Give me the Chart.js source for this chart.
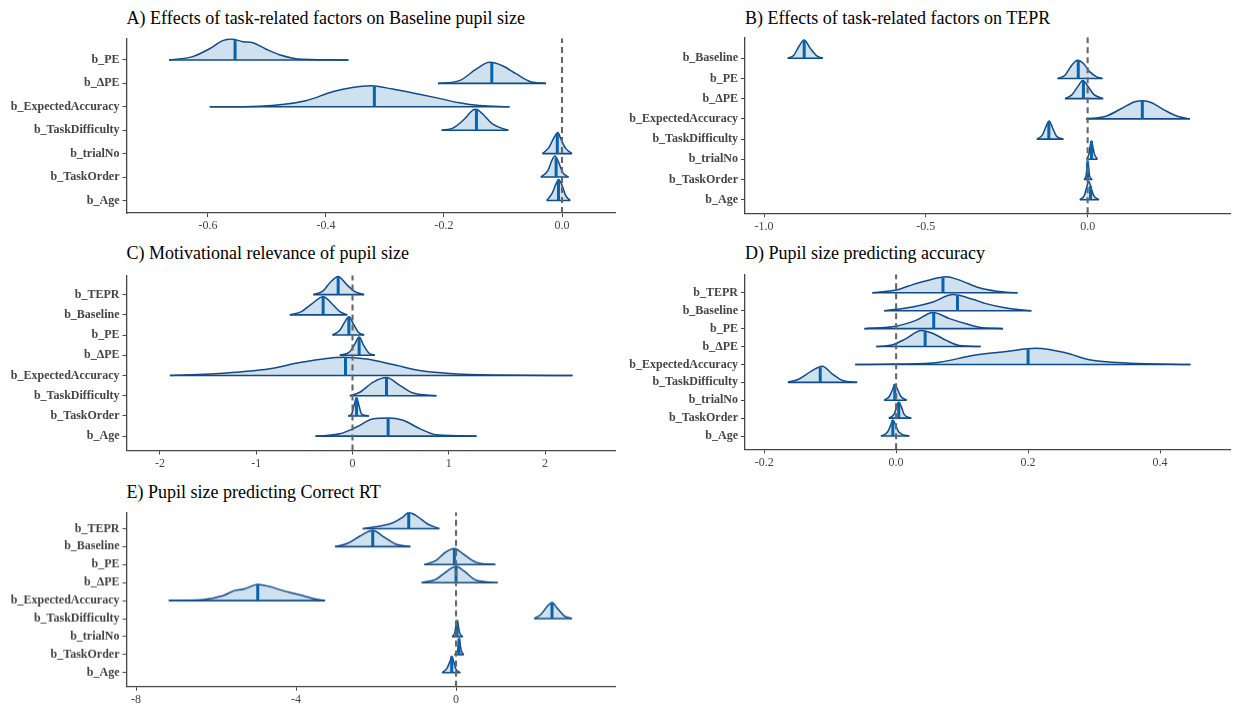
<!DOCTYPE html>
<html>
<head>
<meta charset="utf-8">
<script src="https://cdn.jsdelivr.net/npm/chart.js@4"></script>
<style>
  body { margin: 0; background: #fff; width: 1233px; height: 704px; position: relative; overflow: hidden;
         font-family: "Liberation Serif", "Times New Roman", serif; }
  .ttl { position: absolute; font-size: 18px; line-height: 20px; color: #000; white-space: nowrap; }
  .box { position: absolute; }
</style>
</head>
<body>
<script>
// ── Panel A: task factors -> baseline pupil size ─────────────────────────
const aLabels = ['b_PE', 'b_ΔPE', 'b_ExpectedAccuracy', 'b_TaskDifficulty', 'b_trialNo', 'b_TaskOrder', 'b_Age'];
const aX = [
  [-0.666, -0.626, -0.598, -0.575, -0.561, -0.541, -0.524, -0.502, -0.479, -0.440, -0.362],
  [-0.210, -0.174, -0.146, -0.123, -0.101, -0.078, -0.053, -0.027],
  [-0.597, -0.513, -0.434, -0.389, -0.355, -0.324, -0.287, -0.248, -0.208, -0.174, -0.140, -0.089],
  [-0.204, -0.185, -0.168, -0.151, -0.146, -0.132, -0.118, -0.095, -0.091],
  [-0.033, -0.022, -0.013, -0.007, -0.002, 0.006, 0.017],
  [-0.036, -0.024, -0.017, -0.012, -0.006, 0.001, 0.011],
  [-0.026, -0.017, -0.010, -0.006, 0.000, 0.006, 0.014],
];
const aH = [
  [0, 0.16, 0.52, 0.92, 1, 0.87, 0.82, 0.52, 0.25, 0.03, 0],
  [0, 0.13, 0.66, 1, 0.84, 0.46, 0.08, 0],
  [0, 0.03, 0.29, 0.71, 0.92, 1, 0.84, 0.63, 0.40, 0.19, 0.06, 0],
  [0, 0.10, 0.46, 0.95, 1, 0.70, 0.30, 0.03, 0],
  [0, 0.30, 0.79, 1, 0.70, 0.26, 0],
  [0, 0.30, 0.80, 1, 0.72, 0.22, 0],
  [0, 0.32, 0.80, 1, 0.73, 0.24, 0],
];
const aMed = [-0.554, -0.119, -0.318, -0.145, -0.008, -0.010, -0.006];
const aTicks = [-0.6, -0.4, -0.2, 0.0];
const aTickLabels = ['-0.6', '-0.4', '-0.2', '0.0'];

// ── Panel B: task factors -> TEPR ───────────────────────────────────────
const bLabels = ['b_Baseline', 'b_PE', 'b_ΔPE', 'b_ExpectedAccuracy', 'b_TaskDifficulty', 'b_trialNo', 'b_TaskOrder', 'b_Age'];
const bX = [
  [-0.927, -0.908, -0.893, -0.876, -0.857, -0.836, -0.818],
  [-0.093, -0.070, -0.049, -0.031, -0.013, 0.007, 0.028, 0.046],
  [-0.070, -0.049, -0.031, -0.015, 0.002, 0.018, 0.048],
  [-0.005, 0.054, 0.105, 0.146, 0.172, 0.198, 0.239, 0.280, 0.316],
  [-0.157, -0.140, -0.130, -0.119, -0.109, -0.096, -0.075],
  [-0.003, 0.004, 0.008, 0.012, 0.016, 0.021, 0.030],
  [-0.011, -0.005, -0.002, 0.000, 0.003, 0.006, 0.014],
  [-0.024, -0.010, -0.002, 0.004, 0.010, 0.018, 0.035],
];
const bH = [
  [0, 0.17, 0.63, 1, 0.54, 0.11, 0],
  [0, 0.18, 0.73, 1, 0.82, 0.36, 0.09, 0],
  [0, 0.21, 0.65, 1, 0.65, 0.25, 0],
  [0, 0.13, 0.57, 0.94, 1, 0.89, 0.47, 0.13, 0],
  [0, 0.22, 0.64, 1, 0.64, 0.16, 0],
  [0, 0.30, 0.75, 1, 0.70, 0.30, 0],
  [0, 0.20, 0.70, 1, 0.70, 0.20, 0],
  [0, 0.25, 0.75, 1, 0.70, 0.25, 0],
];
const bMed = [-0.876, -0.029, -0.013, 0.169, -0.120, 0.012, 0.000, 0.009];
const bTicks = [-1.0, -0.5, 0.0];
const bTickLabels = ['-1.0', '-0.5', '0.0'];

// ── Panel C: motivational relevance of pupil size ───────────────────────
const cLabels = ['b_TEPR', 'b_Baseline', 'b_PE', 'b_ΔPE', 'b_ExpectedAccuracy', 'b_TaskDifficulty', 'b_TaskOrder', 'b_Age'];
const cX = [
  [-0.408, -0.305, -0.235, -0.149, -0.062, 0.024, 0.121],
  [-0.651, -0.530, -0.426, -0.305, -0.201, -0.132, -0.055],
  [-0.208, -0.132, -0.080, -0.038, 0.007, 0.059, 0.121],
  [-0.132, -0.028, 0.024, 0.069, 0.118, 0.173, 0.232],
  [-1.897, -1.482, -0.858, -0.547, -0.270, -0.097, 0.145, 0.422, 0.699, 0.976, 1.461, 2.285],
  [-0.028, 0.076, 0.215, 0.353, 0.491, 0.630, 0.872],
  [-0.045, -0.010, 0.017, 0.042, 0.066, 0.094, 0.170],
  [-0.384, -0.132, 0.042, 0.215, 0.370, 0.526, 0.699, 0.872, 1.288],
];
const cH = [
  [0, 0.21, 0.65, 1, 0.56, 0.16, 0],
  [0, 0.18, 0.59, 1, 0.54, 0.18, 0],
  [0, 0.26, 0.72, 1, 0.63, 0.17, 0],
  [0, 0.19, 0.62, 1, 0.53, 0.11, 0],
  [0, 0.08, 0.37, 0.71, 0.94, 1, 0.90, 0.60, 0.27, 0.12, 0.02, 0],
  [0, 0.19, 0.75, 1, 0.57, 0.15, 0],
  [0, 0.10, 0.60, 1, 0.60, 0.10, 0],
  [0, 0.13, 0.50, 0.96, 1, 0.87, 0.41, 0.07, 0],
];
const cMed = [-0.149, -0.305, -0.038, 0.069, -0.073, 0.353, 0.042, 0.370];
const cTicks = [-2, -1, 0, 1, 2];
const cTickLabels = ['-2', '-1', '0', '1', '2'];

// ── Panel D: pupil size -> accuracy ─────────────────────────────────────
const dLabels = ['b_TEPR', 'b_Baseline', 'b_PE', 'b_ΔPE', 'b_ExpectedAccuracy', 'b_TaskDifficulty', 'b_trialNo', 'b_TaskOrder', 'b_Age'];
const dX = [
  [-0.036, 0.000, 0.020, 0.046, 0.076, 0.096, 0.126, 0.152, 0.184],
  [-0.018, 0.025, 0.056, 0.086, 0.116, 0.136, 0.167, 0.205],
  [-0.048, 0.000, 0.030, 0.056, 0.081, 0.106, 0.126, 0.162],
  [-0.030, -0.005, 0.015, 0.038, 0.056, 0.076, 0.096, 0.128],
  [-0.062, 0.000, 0.066, 0.116, 0.167, 0.212, 0.258, 0.293, 0.354, 0.446],
  [-0.164, -0.147, -0.129, -0.112, -0.097, -0.081, -0.059],
  [-0.018, -0.010, -0.005, -0.002, 0.002, 0.007, 0.016],
  [-0.011, -0.003, 0.001, 0.004, 0.008, 0.012, 0.023],
  [-0.023, -0.013, -0.008, -0.005, -0.001, 0.004, 0.020],
];
const dH = [
  [0, 0.17, 0.44, 0.75, 1, 0.79, 0.31, 0.10, 0],
  [0, 0.23, 0.54, 1, 0.71, 0.44, 0.17, 0],
  [0, 0.15, 0.51, 1, 0.62, 0.30, 0.09, 0],
  [0, 0.11, 0.49, 1, 0.81, 0.38, 0.06, 0],
  [0, 0.02, 0.14, 0.55, 0.80, 1, 0.71, 0.29, 0.08, 0],
  [0, 0.21, 0.68, 1, 0.53, 0.11, 0],
  [0, 0.25, 0.70, 1, 0.70, 0.25, 0],
  [0, 0.25, 0.70, 1, 0.70, 0.25, 0],
  [0, 0.25, 0.70, 1, 0.70, 0.25, 0],
];
const dMed = [0.071, 0.093, 0.057, 0.044, 0.200, -0.115, -0.002, 0.004, -0.005];
const dTicks = [-0.2, 0.0, 0.2, 0.4];
const dTickLabels = ['-0.2', '0.0', '0.2', '0.4'];

// ── Panel E: pupil size -> correct RT ───────────────────────────────────
const eLabels = ['b_TEPR', 'b_Baseline', 'b_PE', 'b_ΔPE', 'b_ExpectedAccuracy', 'b_TaskDifficulty', 'b_trialNo', 'b_TaskOrder', 'b_Age'];
const eX = [
  [-2.333, -1.917, -1.583, -1.333, -1.183, -0.958, -0.708, -0.417],
  [-3.025, -2.708, -2.417, -2.083, -1.792, -1.500, -1.142],
  [-0.792, -0.500, -0.250, -0.042, 0.167, 0.500, 0.983],
  [-0.858, -0.500, -0.208, 0.000, 0.208, 0.500, 1.042],
  [-7.183, -6.333, -5.833, -5.542, -5.292, -4.958, -4.667, -4.333, -3.917, -3.583, -3.275],
  [1.958, 2.125, 2.292, 2.400, 2.517, 2.708, 2.900],
  [-0.100, -0.030, 0.000, 0.025, 0.055, 0.090, 0.167],
  [-0.042, 0.040, 0.060, 0.075, 0.100, 0.130, 0.192],
  [-0.350, -0.230, -0.150, -0.108, -0.060, -0.010, 0.108],
];
const eH = [
  [0, 0.15, 0.36, 0.70, 1, 0.74, 0.28, 0],
  [0, 0.21, 0.63, 1, 0.58, 0.15, 0],
  [0, 0.26, 0.79, 1, 0.68, 0.15, 0],
  [0, 0.21, 0.74, 1, 0.70, 0.15, 0],
  [0, 0.06, 0.30, 0.62, 0.72, 1, 0.87, 0.62, 0.36, 0.13, 0],
  [0, 0.27, 0.79, 1, 0.69, 0.17, 0],
  [0, 0.25, 0.70, 1, 0.70, 0.25, 0],
  [0, 0.25, 0.70, 1, 0.70, 0.25, 0],
  [0, 0.25, 0.70, 1, 0.70, 0.25, 0],
];
const eMed = [-1.183, -2.083, -0.042, 0.000, -4.958, 2.400, 0.025, 0.075, -0.108];
const eTicks = [-8, -4, 0];
const eTickLabels = ['-8', '-4', '0'];

// ── Styling ─────────────────────────────────────────────────────────────
const RIDGE_SCALE = 0.9;
const FILL = 'rgba(160,196,222,0.5)';
const OUTLINE = '#124a86';
const MEDIAN = '#0a62a8';
const AXIS = '#454545';
const TEXT = '#444';
const PAD_T = 10, PAD_R = 2, XH = 22;

function medHeight(xs, hs, m) {
  for (let k = 0; k < xs.length - 1; k++) {
    if (m >= xs[k] && m <= xs[k + 1]) {
      const t = (m - xs[k]) / (xs[k + 1] - xs[k] || 1);
      return hs[k] + t * (hs[k + 1] - hs[k]);
    }
  }
  return 0;
}

function drawPanel(p) {
  const n = p.labels.length;
  const ttl = document.createElement('div');
  ttl.className = 'ttl';
  ttl.style.left = p.axisLeft + 'px';
  ttl.style.top = p.titleTop + 'px';
  ttl.textContent = p.title;
  document.body.appendChild(ttl);

  const box = document.createElement('div');
  box.className = 'box';
  box.style.left = p.left + 'px';
  box.style.top = (p.axisTop - PAD_T) + 'px';
  box.style.width = (p.axisRight - p.left + PAD_R) + 'px';
  box.style.height = (PAD_T + p.axisBottom - p.axisTop + XH) + 'px';
  const cv = document.createElement('canvas');
  box.appendChild(cv);
  document.body.appendChild(box);

  const datasets = [];
  // zero reference line, drawn on top
  datasets.push({
    data: [{ x: 0, y: p.yMin }, { x: 0, y: p.yMax }],
    borderColor: '#666', borderWidth: 2.1, borderDash: [6, 4],
    pointRadius: 0, fill: false, order: 0,
  });

  p.labels.forEach((lab, i) => {
    const v = n - i;
    const xs = p.xs[i], hs = p.hs[i], m = p.meds[i];
    const base = 1 + (n - 1 - i) * 3; // lower ridges drawn in front
    datasets.push({
      data: xs.map((x, k) => ({ x, y: v + hs[k] * RIDGE_SCALE })),
      borderColor: OUTLINE, borderWidth: 1.5, backgroundColor: FILL,
      fill: { value: v }, pointRadius: 0, cubicInterpolationMode: 'monotone',
      order: base + 2,
    });
    datasets.push({
      data: [{ x: xs[0], y: v }, { x: xs[xs.length - 1], y: v }],
      borderColor: OUTLINE, borderWidth: 1.6, pointRadius: 0, fill: false,
      order: base + 1,
    });
    datasets.push({
      data: [{ x: m, y: v }, { x: m, y: v + medHeight(xs, hs, m) * RIDGE_SCALE }],
      borderColor: MEDIAN, borderWidth: 3, pointRadius: 0, fill: false,
      order: base,
    });
  });

  new Chart(cv, {
    type: 'line',
    data: { datasets },
    options: {
      responsive: true, maintainAspectRatio: false, animation: false,
      layout: { padding: { top: PAD_T, right: PAD_R, left: 0, bottom: 0 } },
      plugins: { legend: { display: false }, tooltip: { enabled: false } },
      scales: {
        x: {
          type: 'linear', min: p.xMin, max: p.xMax,
          afterBuildTicks: s => { s.ticks = p.ticks.map(value => ({ value })); },
          afterFit: s => { s.height = XH; },
          ticks: {
            autoSkip: false, maxRotation: 0, padding: 2, color: TEXT,
            font: { family: '"Liberation Serif", serif', size: 12 },
            callback: (v, i) => p.tickLabels[i],
          },
          grid: { drawOnChartArea: false, tickLength: 4, color: AXIS, lineWidth: 1 },
          border: { color: AXIS, width: 1.3 },
        },
        y: {
          type: 'linear', min: p.yMin, max: p.yMax,
          afterBuildTicks: s => { s.ticks = p.labels.map((_, i) => ({ value: n - i })); },
          afterFit: s => { s.width = p.axisLeft - p.left; },
          ticks: {
            autoSkip: false, padding: 3, color: TEXT,
            font: { family: '"Liberation Serif", serif', size: 12, weight: 'bold' },
            callback: v => p.labels[n - v],
          },
          grid: { drawOnChartArea: false, tickLength: 4, color: AXIS, lineWidth: 1 },
          border: { color: AXIS, width: 1.3 },
        },
      },
    },
  });
}

drawPanel({ title: 'A) Effects of task-related factors on Baseline pupil size', titleTop: 8,
  left: 0, axisLeft: 126.5, axisRight: 615, axisTop: 37.6, axisBottom: 212.7,
  xMin: -0.738, xMax: 0.0898, yMin: 0.46, yMax: 7.93,
  labels: aLabels, xs: aX, hs: aH, meds: aMed, ticks: aTicks, tickLabels: aTickLabels });

drawPanel({ title: 'B) Effects of task-related factors on TEPR', titleTop: 8,
  left: 620, axisLeft: 745, axisRight: 1230, axisTop: 37, axisBottom: 213.3,
  xMin: -1.059, xMax: 0.44, yMin: 0.33, yMax: 9.04,
  labels: bLabels, xs: bX, hs: bH, meds: bMed, ticks: bTicks, tickLabels: bTickLabels });

drawPanel({ title: 'C) Motivational relevance of pupil size', titleTop: 243,
  left: 0, axisLeft: 126.5, axisRight: 615, axisTop: 274.5, axisBottom: 450,
  xMin: -2.348, xMax: 2.727, yMin: 0.29, yMax: 8.96,
  labels: cLabels, xs: cX, hs: cH, meds: cMed, ticks: cTicks, tickLabels: cTickLabels });

drawPanel({ title: 'D) Pupil size predicting accuracy', titleTop: 243,
  left: 620, axisLeft: 745, axisRight: 1230, axisTop: 274, axisBottom: 449.3,
  xMin: -0.229, xMax: 0.506, yMin: 0.26, yMax: 10.04,
  labels: dLabels, xs: dX, hs: dH, meds: dMed, ticks: dTicks, tickLabels: dTickLabels });

drawPanel({ title: 'E) Pupil size predicting Correct RT', titleTop: 482,
  left: 0, axisLeft: 126.5, axisRight: 615, axisTop: 512, axisBottom: 685.7,
  xMin: -8.24, xMax: 3.975, yMin: 0.22, yMax: 9.91,
  labels: eLabels, xs: eX, hs: eH, meds: eMed, ticks: eTicks, tickLabels: eTickLabels });
</script>
</body>
</html>
